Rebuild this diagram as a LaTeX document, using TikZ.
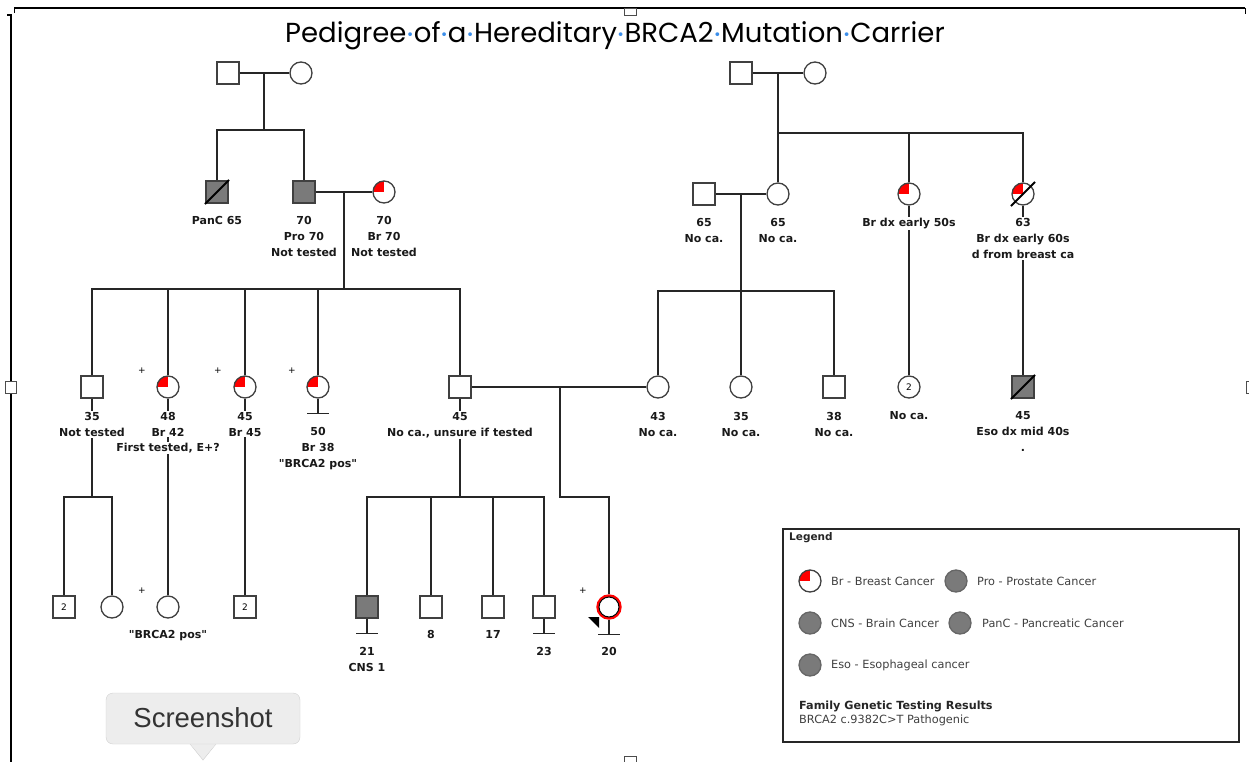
\documentclass[tikz,border=0pt]{standalone}
\usepackage{fontspec}
\setmainfont{DejaVu Sans}
\newfontfamily\titlefont{Poppins}
\newfontfamily\tipfont{Liberation Sans}
\usetikzlibrary{calc}

\definecolor{wordblue}{HTML}{3B8EEA}
\definecolor{affgray}{HTML}{7A7A7A}
\definecolor{pedred}{HTML}{FF0000}

\newcommand{\wdot}{\makebox[0.27em]{\raisebox{3pt}{\textcolor{wordblue}{\normalfont\fontsize{13}{13}\selectfont •}}}}
\newcommand{\decd}[1]{\draw[line width=1.8pt] ($(#1.center)+(225:17pt)$) -- ($(#1.center)+(45:17pt)$);}
\newcommand{\nokids}[1]{\draw[rel] (#1.south) -- ++(0,15) coordinate (#1bar) ++(-11,0) -- ++(22,0);}

\begin{document}
\begin{tikzpicture}[x=1pt,y=-1pt,
 male/.style={rectangle,draw=black!75,fill=white,minimum size=22pt,inner sep=0pt,line width=1.3pt,font=\fontsize{9}{9}\selectfont},
 female/.style={circle,draw=black!75,fill=white,minimum size=22pt,inner sep=0pt,line width=1.3pt,font=\fontsize{9}{9}\selectfont},
 affected/.style={fill=affgray},
 breast/.style={path picture={\fill[pedred] (path picture bounding box.center) rectangle (path picture bounding box.north west);}},
 rel/.style={line width=1.3pt,draw=black!85},
 lbl/.style={font=\bfseries\fontsize{11}{16}\selectfont,text=black!90,fill=white,inner sep=1pt,align=center,anchor=north},
 plus/.style={font=\fontsize{9}{9}\selectfont,inner sep=0pt},
 lgtext/.style={font=\fontsize{11.3}{13}\selectfont,text=black!75,anchor=west,inner sep=0pt}]

 \useasboundingbox[fill=white] (0,0) rectangle (1249,762);

 % page frame of the screenshot
 \draw[line width=2.5pt] (14,8) -- (1245,8);
 \draw[line width=1pt] (14,8) -- (14,13);
 \draw[line width=1pt] (1245,8) -- (1245,14);
 \draw[line width=2pt] (7,15) -- (11,15) -- (11,762);
 \draw[black!70,fill=white,line width=0.8pt] (5,381) rectangle (16,393);
 \draw[black!70,fill=white,line width=0.8pt] (1246,381) rectangle (1253,393);
 \draw[black!70,fill=white,line width=0.8pt] (624,8) rectangle (636,15);
 \draw[black!70,fill=white,line width=0.8pt] (624,756) rectangle (636,763);

 \node[font=\titlefont\fontsize{27.5}{30}\selectfont] (title) at (615,36)
  {Pedigree\wdot of\wdot a\wdot Hereditary\wdot BRCA2\wdot Mutation\wdot Carrier};

 % generation I
 \node[male] (gIm) at (228,73) {};
 \node[female] (gIf) at (301,73) {};
 \node[male] (gIm2) at (741,73) {};
 \node[female] (gIf2) at (815,73) {};

 % generation II
 \node[male,affected] (panc) at (217,192) {};
 \node[male,affected] (pro70) at (304,192) {};
 \node[female,breast] (br70) at (384,192) {};
 \node[male] (m65) at (704,194) {};
 \node[female] (f65) at (778,194) {};
 \node[female,breast] (br50) at (909,194) {};
 \node[female,breast] (br63) at (1023,194) {};
 \decd{panc}
 \decd{br63}

 % generation III
 \node[male] (c35) at (92,387) {};
 \node[female,breast] (c48) at (168,387) {};
 \node[female,breast] (c45a) at (245,387) {};
 \node[female,breast] (c50) at (318,387) {};
 \node[male] (c45b) at (460,387) {};
 \node[female] (f43) at (658,387) {};
 \node[female] (f35) at (741,387) {};
 \node[male] (m38) at (834,387) {};
 \node[female] (tw2) at (909,387) {2};
 \node[male,affected] (eso45) at (1023,387) {};
 \decd{eso45}
 \nokids{c50}

 % generation IV
 \node[male] (m2a) at (64,607) {2};
 \node[female] (f4a) at (112,607) {};
 \node[female] (f4b) at (168,607) {};
 \node[male] (m2b) at (245,607) {2};
 \node[male,affected] (m21) at (367,607) {};
 \node[male] (m8) at (431,607) {};
 \node[male] (m17) at (493,607) {};
 \node[male] (m23) at (544,607) {};
 \node[female,draw=pedred,line width=2.4pt,minimum size=23pt] (p20) at (609,607) {};
 \draw[line width=1pt] (p20.center) circle[radius=10pt];
 \fill (588,617) -- (599,617) -- (599,628) -- cycle;
 \nokids{m21}
 \nokids{m23}
 \nokids{p20}

 % lines of descent
 \coordinate (gImid) at (264,73);
 \coordinate (gIsib) at (264,130);
 \draw[rel] (gIm.east) -- (gIf.west);
 \draw[rel] (gImid) -- (gIsib);
 \draw[rel] (panc.north) |- (gIsib) -| (pro70.north);

 \coordinate (gImid2) at (778,73);
 \coordinate (gIsib2) at (778,133);
 \draw[rel] (gIm2.east) -- (gIf2.west);
 \draw[rel] (gImid2) -- (f65.north);
 \draw[rel] (gIsib2) -| (br63.north);
 \draw[rel] (br50.north) -- (br50.north |- gIsib2);

 \coordinate (gIImid) at (344,192);
 \coordinate (gIIsib) at (344,289);
 \draw[rel] (pro70.east) -- (br70.west);
 \draw[rel] (gIImid) -- (gIIsib);
 \draw[rel] (c35.north) |- (gIIsib) -| (c45b.north);
 \draw[rel] (c48.north) -- (c48.north |- gIIsib);
 \draw[rel] (c45a.north) -- (c45a.north |- gIIsib);
 \draw[rel] (c50.north) -- (c50.north |- gIIsib);

 \coordinate (gIImid2) at (741,194);
 \coordinate (gIIsib2) at (741,291);
 \draw[rel] (m65.east) -- (f65.west);
 \draw[rel] (gIImid2) -- (f35.north);
 \draw[rel] (f43.north) |- (gIIsib2) -| (m38.north);
 \draw[rel] (br50.south) -- (tw2.north);
 \draw[rel] (br63.south) -- (eso45.north);

 \coordinate (gIIImid) at (560,387);
 \coordinate (gIIIsib) at (560,497);
 \draw[rel] (c45b.east) -- (f43.west);
 \draw[rel] (gIIImid) -- (gIIIsib) -| (p20.north);

 \coordinate (sib35) at (92,497);
 \draw[rel] (c35.south) -- (sib35);
 \draw[rel] (m2a.north) |- (sib35) -| (f4a.north);
 \draw[rel] (c48.south) -- (f4b.north);
 \draw[rel] (c45a.south) -- (m2b.north);

 \coordinate (sib45) at (460,497);
 \draw[rel] (c45b.south) -- (sib45);
 \draw[rel] (m21.north) |- (sib45) -| (m23.north);
 \draw[rel] (m8.north) -- (m8.north |- sib45);
 \draw[rel] (m17.north) -- (m17.north |- sib45);

 % labels
 \node[lbl] (lpanc) at (217,215) {PanC 65};
 \node[lbl] (lpro70) at (304,215) {70\\Pro 70\\Not tested};
 \node[lbl] (lbr70) at (384,215) {70\\Br 70\\Not tested};
 \node[lbl] (lm65) at (704,217) {65\\No ca.};
 \node[lbl] (lf65) at (778,217) {65\\No ca.};
 \node[lbl] (lbr50) at (909,217) {Br dx early 50s};
 \node[lbl] (lbr63) at (1023,217) {63\\Br dx early 60s\\d from breast ca};

 \node[lbl] (lc48b) at (168,442) {First tested, E+?};
 \node[lbl] (lc35) at (92,411) {35\\Not tested};
 \node[lbl] (lc48) at (168,411) {48\\Br 42};
 \node[lbl] (lc45a) at (245,411) {45\\Br 45};
 \node[lbl] (lc50) at (318,426) {50\\Br 38\\\textquotedbl BRCA2 pos\textquotedbl};
 \node[lbl] (lc45b) at (460,411) {45\\No ca., unsure if tested};
 \node[lbl] (lf43) at (658,411) {43\\No ca.};
 \node[lbl] (lf35) at (741,411) {35\\No ca.};
 \node[lbl] (lm38) at (834,411) {38\\No ca.};
 \node[lbl] (ltw2) at (909,410) {No ca.};
 \node[lbl] (leso45) at (1023,410) {45\\Eso dx mid 40s\\.};

 \node[lbl] (lf4b) at (168,629) {\textquotedbl BRCA2 pos\textquotedbl};
 \node[lbl] (lm21) at (367,646) {21\\CNS 1};
 \node[lbl] (lm8) at (431,629) {8};
 \node[lbl] (lm17) at (493,629) {17};
 \node[lbl] (lm23) at (544,646) {23};
 \node[lbl] (lp20) at (609,646) {20};

 \node[plus] (pc48) at (142,371) {+};
 \node[plus] (pc45a) at (218,371) {+};
 \node[plus] (pc50) at (292,371) {+};
 \node[plus] (pf4b) at (142,591) {+};
 \node[plus] (pp20) at (583,591) {+};

 % legend
 \draw[line width=2pt,draw=black!85] (783,529) rectangle (1239,742);
 \node[lgtext,font=\bfseries\fontsize{10.5}{13}\selectfont,text=black!85] (lgtitle) at (789,538) {Legend};
 \node[female,breast] (lgbr) at (810,581) {};
 \node[lgtext] (lgbrt) at (831,581) {Br - Breast Cancer};
 \node[female,affected,draw=black!60] (lgpro) at (956,581) {};
 \node[lgtext] (lgprot) at (977,581) {Pro - Prostate Cancer};
 \node[female,affected,draw=black!60] (lgcns) at (810,623) {};
 \node[lgtext] (lgcnst) at (831,623) {CNS - Brain Cancer};
 \node[female,affected,draw=black!60] (lgpanc) at (960,623) {};
 \node[lgtext] (lgpanct) at (982,623) {PanC - Pancreatic Cancer};
 \node[female,affected,draw=black!60] (lgeso) at (810,665) {};
 \node[lgtext] (lgesot) at (831,665) {Eso - Esophageal cancer};
 \node[lgtext,font=\bfseries\fontsize{11.2}{13}\selectfont,text=black!85] (lgfam) at (799,706) {Family Genetic Testing Results};
 \node[lgtext] (lgres) at (799,720) {BRCA2 c.9382C>T Pathogenic};

 % screenshot tooltip
 \fill[black!7] (190,743) -- (203,760) -- (216,743) -- cycle;
 \draw[black!20] (190,744) -- (203,760) -- (216,744);
 \draw[black!18,fill=black!7,rounded corners=7pt] (106,693) rectangle (300,744);
 \node[font=\tipfont\fontsize{27.5}{30}\selectfont,text=black!80] (tip) at (203,718) {Screenshot};

\end{tikzpicture}
\end{document}
